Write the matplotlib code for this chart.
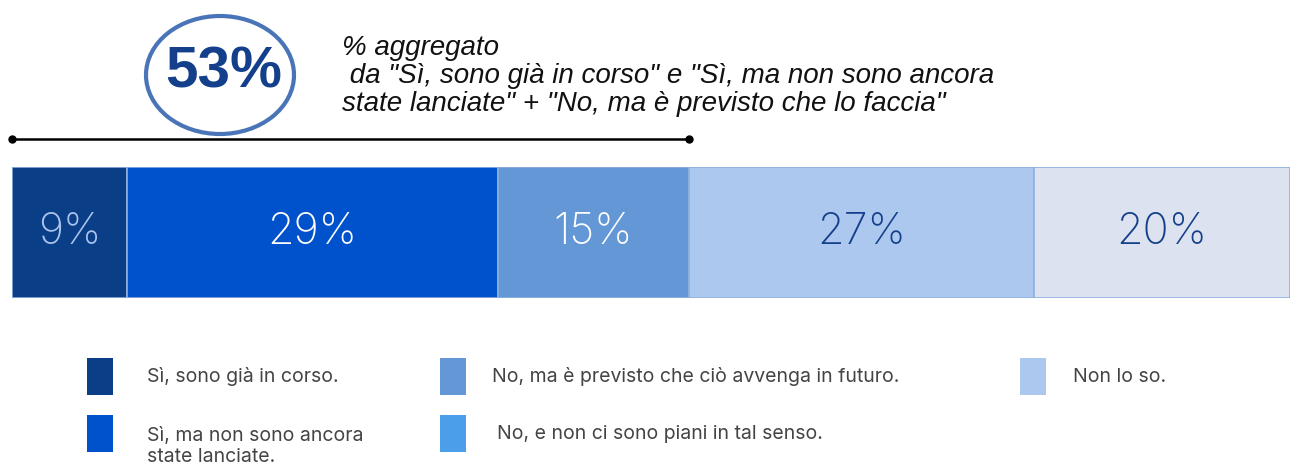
import matplotlib.pyplot as plt
from matplotlib.patches import Ellipse, Rectangle

# risposte e percentuali
risposte = ["Sì, sono già in corso.",
            "Sì, ma non sono ancora\nstate lanciate.",
            "No, ma è previsto che ciò avvenga in futuro.",
            "Non lo so.",
            "No, e non ci sono piani in tal senso."]
valori = [9, 29, 15, 27, 20]
etichette = ["9%", "29%", "15%", "27%", "20%"]
colori_barra = ["#0a3f87", "#0052cc", "#6497d6", "#adc8ee", "#dce2f0"]
colori_testo = ["#a9c4ee", "white", "white", "#143f8a", "#143f8a"]
colori_legenda = ["#0a3f87", "#0052cc", "#6497d6", "#adc8ee", "#4a9eea"]
aggregato = "53%"
n_aggregato = 3  # primi tre segmenti sommati
nota = ["% aggregato",
        " da \"Sì, sono già in corso\" e \"Sì, ma non sono ancora",
        "state lanciate\" + \"No, ma è previsto che lo faccia\""]

W, H = 1290, 468
fig = plt.figure(figsize=(W / 100, H / 100), dpi=100)
fig.patch.set_facecolor("white")


def fx(px):
    return px / W


def fy(py):
    return 1 - py / H


# barra impilata
ax = fig.add_axes([fx(12), fy(298), fx(1278), (298 - 167) / H])
left = 0
for v, c, lab, tc in zip(valori, colori_barra, etichette, colori_testo):
    ax.barh(0.5, v, left=left, height=1, color=c, edgecolor="#8fb0dd", linewidth=1.2)
    ax.text(left + v / 2, 0.5, lab, ha="center", va="center", fontsize=31,
            color=tc, family=["Inter", "DejaVu Sans"], fontweight="light")
    left += v
ax.set_xlim(0, sum(valori))
ax.set_ylim(0, 1)
ax.axis("off")

# linea del valore aggregato
fine = sum(valori[:n_aggregato])
ax.plot([0, fine], [1.214, 1.214], color="black", lw=1.8, marker="o",
        markersize=5, clip_on=False)

# cerchio con il totale
fig.patches.append(Ellipse((fx(220), fy(75)), fx(148), 118 / H, fill=False,
                           edgecolor="#4a74b8", linewidth=3,
                           transform=fig.transFigure))
fig.text(fx(224), fy(73), aggregato, ha="center", va="center", fontsize=42,
         fontweight="bold", color="#143f8a", family=["Liberation Sans", "DejaVu Sans"])

for i, riga in enumerate(nota):
    fig.text(fx(342), fy(48 + 28 * i), riga, ha="left", va="center", fontsize=20,
             style="italic", color="#111111", family=["Liberation Sans", "DejaVu Sans"])

# legenda
pos = [(87, 358), (87, 415), (440, 358), (1020, 358), (440, 415)]
txt_x = [147, 147, 492, 1073, 497]
for (x, y), tx, c, r in zip(pos, txt_x, colori_legenda, risposte):
    fig.patches.append(Rectangle((fx(x), fy(y + 37)), fx(26), 37 / H,
                                 facecolor=c, edgecolor="none",
                                 transform=fig.transFigure))
    if "\n" in r:
        fig.text(fx(tx), fy(y + 12), r, ha="left", va="top", fontsize=14,
                 color="#444444", family=["Inter", "DejaVu Sans"], linespacing=1.25)
    else:
        fig.text(fx(tx), fy(y + 19), r, ha="left", va="center", fontsize=14,
                 color="#444444", family=["Inter", "DejaVu Sans"])

fig.savefig("out.png", dpi=100)
